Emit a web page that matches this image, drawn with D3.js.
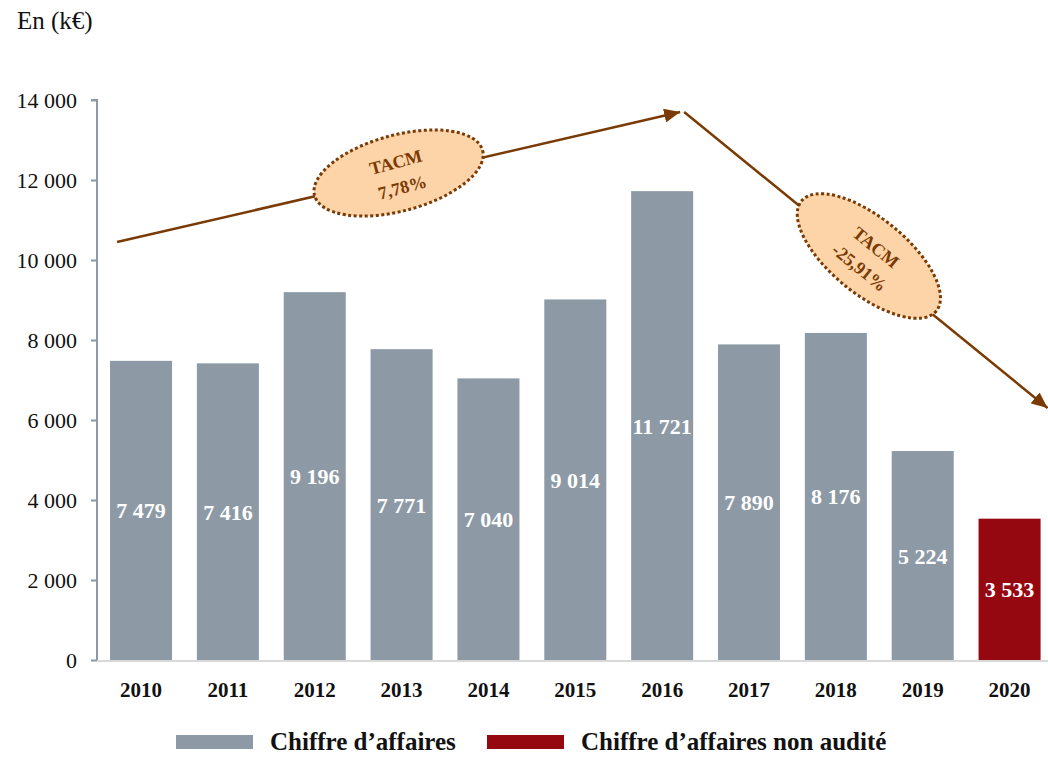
<!DOCTYPE html>
<html>
<head>
<meta charset="utf-8">
<script src="https://cdn.jsdelivr.net/npm/d3@7"></script>
<style>
  body { margin: 0; background: #fff; }
  svg { display: block; font-family: "Liberation Serif", "DejaVu Serif", serif; }
</style>
</head>
<body>
<svg width="1048" height="757"></svg>
<script>
// chart data
var years = ["2010", "2011", "2012", "2013", "2014", "2015", "2016", "2017", "2018", "2019", "2020"];
var revenue = [7479, 7416, 9196, 7771, 7040, 9014, 11721, 7890, 8176, 5224, 3533];
var audited = [true, true, true, true, true, true, true, true, true, true, false];
var yTicks = [0, 2000, 4000, 6000, 8000, 10000, 12000, 14000];
var legendLabels = ["Chiffre d\u2019affaires", "Chiffre d\u2019affaires non audit\u00e9"];
// growth arrows: [start year, start value, end year, end value, label]
var trendFrom = [["2010", 10450], ["2016", 13700]];
var trendTo = [["2016", 13700], ["2020", 6300]];
var trendLabels = [["TACM", "7,78%"], ["TACM", "-25,91%"]];

var svg = d3.select("svg"),
  width = +svg.attr("width"),
  height = +svg.attr("height");

var grey = "#8d9aa6",
  red = "#960810",
  brown = "#7a3a04",
  peach = "#fdd3a8";

var fmt = function(v) {
  return d3.format(",")(v).replace(/,/g, " ");
};

var x = d3.scaleBand()
  .domain(years)
  .range([97.6, 1053])
  .paddingInner(0.286)
  .paddingOuter(0.143);

var y = d3.scaleLinear()
  .domain([0, 14000])
  .range([660, 100]);

// unit label
svg.append("text")
  .attr("x", 17)
  .attr("y", 29)
  .attr("font-size", 25)
  .attr("fill", "#111")
  .text("En (k\u20ac)");

// y axis
var yAxis = svg.append("g")
  .attr("transform", "translate(97,0)")
  .call(d3.axisLeft(y).tickValues(yTicks).tickSize(6).tickPadding(14).tickFormat(fmt));
yAxis.select(".domain").attr("stroke", grey).attr("stroke-width", 2).attr("d", "M-6," + y(14000) + "H0V" + y(0));
yAxis.selectAll(".tick line").attr("stroke", grey).attr("stroke-width", 2);
yAxis.selectAll(".tick text")
  .attr("font-size", 22)
  .attr("font-family", "Liberation Serif, serif")
  .attr("fill", "#111");

// bars
svg.append("g")
  .selectAll("rect")
  .data(years)
  .enter().append("rect")
  .attr("x", function(d) { return x(d); })
  .attr("y", function(d, i) { return y(revenue[i]); })
  .attr("width", x.bandwidth())
  .attr("height", function(d, i) { return y(0) - y(revenue[i]); })
  .attr("fill", function(d, i) { return audited[i] ? grey : red; });

// baseline
svg.append("line")
  .attr("x1", 97).attr("x2", 1048)
  .attr("y1", y(0) + 1).attr("y2", y(0) + 1)
  .attr("stroke", "#d9d9d9")
  .attr("stroke-width", 2);

// value labels
svg.append("g")
  .selectAll("text")
  .data(years)
  .enter().append("text")
  .attr("x", function(d) { return x(d) + x.bandwidth() / 2; })
  .attr("y", function(d, i) { return (y(revenue[i]) + y(0)) / 2 + 8; })
  .attr("text-anchor", "middle")
  .attr("font-size", 22)
  .attr("font-weight", "bold")
  .attr("fill", "#fff")
  .text(function(d, i) { return fmt(revenue[i]); });

// x labels
var xAxis = svg.append("g")
  .attr("transform", "translate(0," + y(0) + ")")
  .call(d3.axisBottom(x).tickSize(0).tickPadding(22));
xAxis.select(".domain").remove();
xAxis.selectAll(".tick text")
  .attr("font-size", 21)
  .attr("font-weight", "bold")
  .attr("font-family", "Liberation Serif, serif")
  .attr("fill", "#111");

// arrow marker
svg.append("defs").append("marker")
  .attr("id", "head")
  .attr("markerUnits", "userSpaceOnUse")
  .attr("viewBox", "0 0 16 14")
  .attr("refX", 16).attr("refY", 7)
  .attr("markerWidth", 16).attr("markerHeight", 14)
  .attr("orient", "auto")
  .append("path")
  .attr("d", "M0,0L16,7L0,14Z")
  .attr("fill", brown);

var ends = [[-24, 18], [22, 38]];
trendFrom.forEach(function(from, i) {
  var to = trendTo[i];
  var x1 = x(from[0]) + x.bandwidth() / 2 + ends[i][0],
    y1 = y(from[1]),
    x2 = x(to[0]) + x.bandwidth() / 2 + ends[i][1],
    y2 = y(to[1]);
  svg.append("line")
    .attr("x1", x1).attr("y1", y1)
    .attr("x2", x2).attr("y2", y2)
    .attr("stroke", brown)
    .attr("stroke-width", 2.5)
    .attr("marker-end", "url(#head)");

  var angle = Math.atan2(y2 - y1, x2 - x1) * 180 / Math.PI;
  var g = svg.append("g")
    .attr("transform", "translate(" + ((x1 + x2) / 2 + (i == 0 ? 0 : 3)) + "," + ((y1 + y2) / 2 - 4) + ") rotate(" + (i == 0 ? angle - 2 : angle) + ")");
  g.append("ellipse")
    .attr("rx", 87).attr("ry", 38)
    .attr("fill", peach)
    .attr("stroke", brown)
    .attr("stroke-width", 3)
    .attr("stroke-dasharray", "3 2.5");
  g.append("text")
    .attr("y", -5)
    .attr("text-anchor", "middle")
    .attr("font-size", 18)
    .attr("font-weight", "bold")
    .attr("fill", brown)
    .text(trendLabels[i][0]);
  g.append("text")
    .attr("y", 21)
    .attr("text-anchor", "middle")
    .attr("font-size", 18)
    .attr("font-weight", "bold")
    .attr("fill", brown)
    .text(trendLabels[i][1]);
});

// legend
var legendX = [176, 487];
var legend = svg.append("g")
  .selectAll("g")
  .data(legendLabels)
  .enter().append("g")
  .attr("transform", function(d, i) { return "translate(" + legendX[i] + ",735)"; });
legend.append("rect")
  .attr("width", 77).attr("height", 14)
  .attr("fill", function(d, i) { return i == 0 ? grey : red; });
legend.append("text")
  .attr("x", 94).attr("y", 15)
  .attr("font-size", 25)
  .attr("font-weight", "bold")
  .attr("fill", "#111")
  .text(function(d) { return d; });
</script>
</body>
</html>
